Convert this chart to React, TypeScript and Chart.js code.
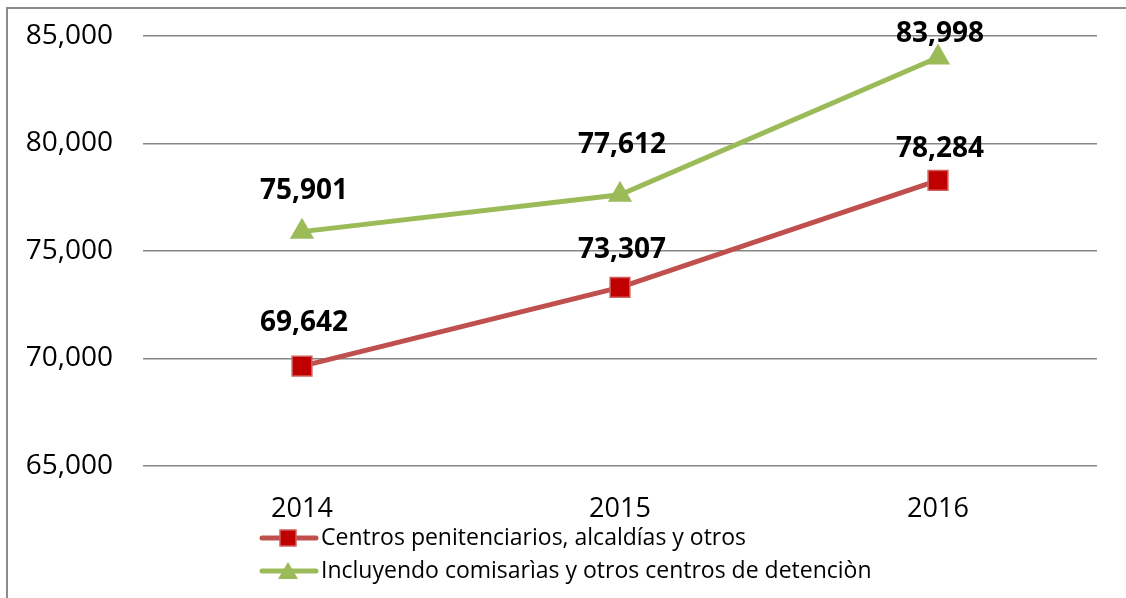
import React, { useEffect, useRef } from "react";
import { Chart, registerables } from "chart.js";

Chart.register(...registerables);

const years = ["2014", "2015", "2016"];
const centrosValues = [69642, 73307, 78284];
const incluyendoValues = [75901, 77612, 83998];
const seriesNames = [
  "Centros penitenciarios, alcaldías y otros",
  "Incluyendo comisarìas y otros centros de detenciòn",
];
const yMin = 65000;
const yMax = 85000;
const yStep = 5000;

// label lift above each point (px), per dataset
const labelLift = [
  [43, 37, 31],
  [41, 50, 24],
];

const FONT = "'Open Sans', 'DejaVu Sans', sans-serif";
const fmt = (v: number) => v.toLocaleString("en-US");

const dataLabelsPlugin = {
  id: "dataLabelsCustom",
  afterDatasetsDraw(chart: any) {
    const ctx = chart.ctx;
    ctx.save();
    ctx.font = `bold 28px ${FONT}`;
    ctx.fillStyle = "#000";
    ctx.textAlign = "center";
    ctx.textBaseline = "middle";
    chart.data.datasets.forEach((ds: any, di: number) => {
      const meta = chart.getDatasetMeta(di);
      meta.data.forEach((pt: any, i: number) => {
        ctx.fillText(fmt(ds.data[i]), pt.x + 2, pt.y - labelLift[di][i]);
      });
    });
    ctx.restore();
  },
};

const legendPlugin = {
  id: "legendCustom",
  afterDraw(chart: any) {
    const ctx = chart.ctx;
    const x0 = 260;
    const rows = [538, 571];
    ctx.save();
    chart.data.datasets.forEach((ds: any, di: number) => {
      const y = rows[di];
      ctx.strokeStyle = ds.borderColor;
      ctx.lineWidth = 5;
      ctx.lineCap = "round";
      ctx.beginPath();
      ctx.moveTo(x0 + 2, y);
      ctx.lineTo(x0 + 56, y);
      ctx.stroke();
      const cx = x0 + 28;
      ctx.fillStyle = ds.pointBackgroundColor;
      ctx.strokeStyle = ds.pointBorderColor;
      ctx.lineWidth = 1.5;
      if (ds.pointStyle === "rect") {
        ctx.beginPath();
        ctx.rect(cx - 8, y - 8, 16, 16);
        ctx.fill();
        ctx.stroke();
      } else {
        ctx.beginPath();
        ctx.moveTo(cx, y - 9);
        ctx.lineTo(cx + 10, y + 8);
        ctx.lineTo(cx - 10, y + 8);
        ctx.closePath();
        ctx.fill();
      }
      ctx.fillStyle = "#000";
      ctx.font = `23px ${FONT}`;
      ctx.textAlign = "left";
      ctx.textBaseline = "middle";
      ctx.fillText(ds.label, x0 + 61, y);
    });
    ctx.restore();
  },
};

export default function App() {
  const ref = useRef<HTMLCanvasElement | null>(null);

  useEffect(() => {
    if (!ref.current) return;
    const chart = new Chart(ref.current, {
      type: "line",
      data: {
        labels: years,
        datasets: [
          {
            label: seriesNames[0],
            data: centrosValues,
            borderColor: "#C0504D",
            borderWidth: 5,
            pointStyle: "rect",
            pointRadius: 14,
            pointBackgroundColor: "#C00000",
            pointBorderColor: "#D0605D",
            pointBorderWidth: 1.5,
            tension: 0,
          },
          {
            label: seriesNames[1],
            data: incluyendoValues,
            borderColor: "#9BBB59",
            borderWidth: 5,
            pointStyle: "triangle",
            pointRadius: 14,
            pointBackgroundColor: "#9BBB59",
            pointBorderColor: "#9BBB59",
            pointBorderWidth: 0,
            tension: 0,
          },
        ],
      },
      options: {
        animation: false,
        responsive: false,
        maintainAspectRatio: false,
        layout: { padding: { top: 36, right: 29, bottom: 0, left: 0 } },
        plugins: {
          legend: { display: false },
          tooltip: { enabled: false },
        },
        scales: {
          x: {
            offset: true,
            grid: { display: false, drawTicks: false },
            border: { display: false },
            ticks: {
              color: "#000",
              font: { family: FONT, size: 27 },
              padding: 27,
            },
            afterFit(scale: any) {
              scale.height = 132;
            },
          },
          y: {
            min: yMin,
            max: yMax,
            grid: {
              color: "#868686",
              lineWidth: 1.5,
              drawTicks: true,
              tickLength: 30,
              tickColor: "rgba(0,0,0,0)",
            },
            border: { display: false },
            ticks: {
              stepSize: yStep,
              color: "#000",
              font: { family: FONT, size: 28 },
              padding: 0,
              callback: (v: any) => fmt(Number(v)),
            },
            afterFit(scale: any) {
              scale.width = 143;
            },
          },
        },
      },
      plugins: [dataLabelsPlugin, legendPlugin],
    });
    return () => chart.destroy();
  }, []);

  return (
    <div style={{ position: "fixed", left: 0, top: 0, width: 1126, height: 598, background: "#fff", overflow: "hidden" }}>
      <div
        style={{
          position: "absolute",
          left: 6,
          top: 7,
          width: 1200,
          height: 700,
          borderLeft: "2px solid #8c8c8c",
          borderTop: "2px solid #8c8c8c",
        }}
      />
      <canvas ref={ref} width={1126} height={598} style={{ position: "absolute", left: 0, top: 0 }} />
    </div>
  );
}
